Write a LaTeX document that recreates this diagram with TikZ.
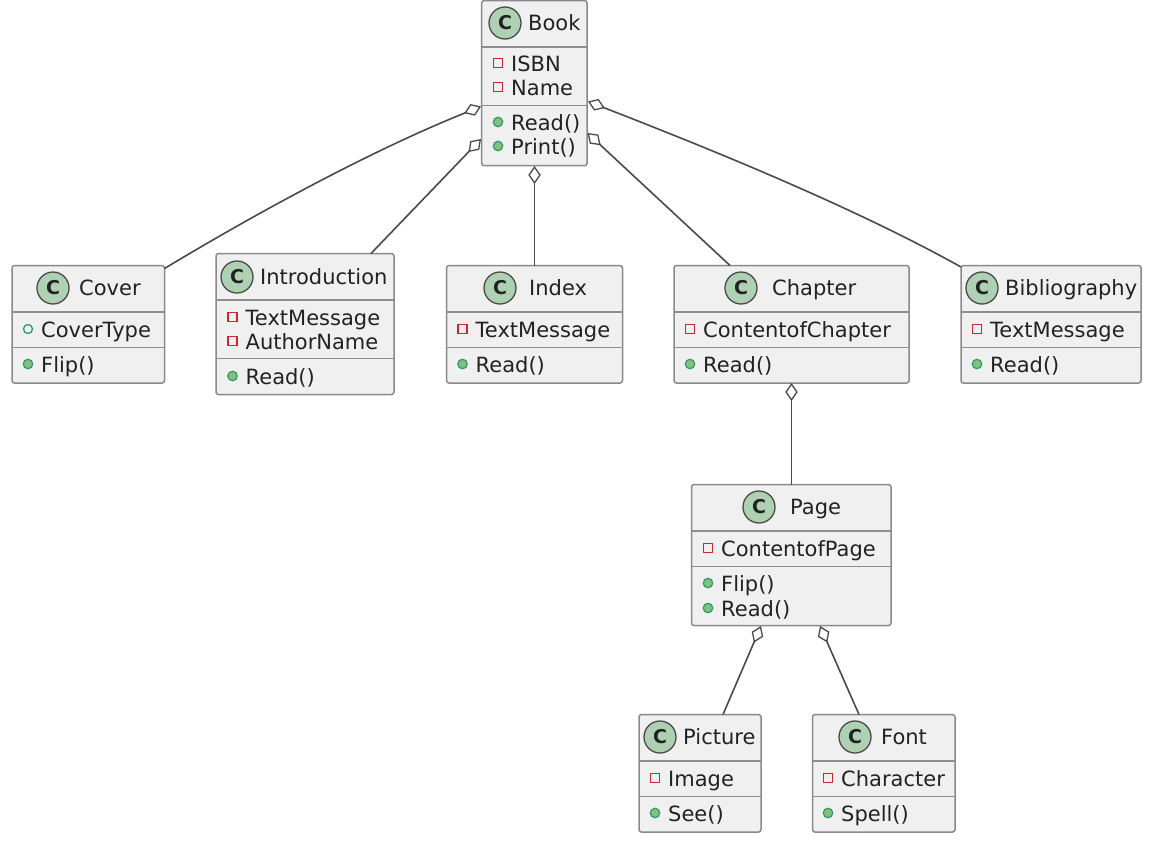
\documentclass[tikz,border=0pt]{standalone}
\usepackage{fontspec}
\setmainfont{DejaVu Sans}
\usetikzlibrary{arrows.meta}
\definecolor{boxfill}{HTML}{F0F0F0}
\definecolor{boxline}{HTML}{8A8A8A}
\definecolor{sepline}{HTML}{8E8E8E}
\definecolor{spot}{HTML}{ADD1B2}
\definecolor{ink}{HTML}{222222}
\definecolor{conn}{HTML}{4A4A4A}
\definecolor{privred}{HTML}{C82930}
\definecolor{pubgreen}{HTML}{2F9E62}
\definecolor{pubfill}{HTML}{84BE84}
\tikzset{
  classbox/.style={draw=boxline,line width=1.5pt,fill=boxfill,rounded corners=2.5pt,inner sep=0pt},
  sep/.style={draw=sepline,line width=1.5pt},
  spotc/.style={circle,draw=conn,line width=1.3pt,fill=spot,minimum size=32pt,inner sep=0pt,font=\fontsize{19}{19}\selectfont\bfseries,text=ink},
  label/.style={anchor=base west,inner sep=0pt,text=ink,font=\fontsize{21}{21}\selectfont},
  priv/.style={rectangle,draw=privred,line width=1.2pt,fill=boxfill,minimum size=9pt,inner sep=0pt},
  pub/.style={circle,draw=pubgreen,line width=1.2pt,fill=pubfill,minimum size=9.5pt,inner sep=0pt},
  pubopen/.style={circle,draw=pubgreen,line width=1.3pt,fill=boxfill,minimum size=9pt,inner sep=0pt},
  agg/.style={draw=conn,line width=1.6pt,{Diamond[open,fill=white,length=18pt,width=12.5pt,line width=1.3pt]}-},
}
% id x1 y1 x2 y2 sep1 sep2 spotx spoty namex name
\newcommand{\umlclass}[9]{%
  \node[classbox,minimum width={(#4-#2)*1pt},minimum height={(#5-#3)*1pt}] (#1) at ({(#2+#4)/2},{-(#3+#5)/2}) {};
  \draw[sep] (#2,-#6) -- (#4,-#6);
  \draw[sep] (#2,-#7) -- (#4,-#7);
  \node[spotc] (#1-spot) at (#8,{-#9}) {C};
  \umlname{#1}{#9}%
}
\newcommand{\umlname}[2]{\def\curid{#1}\def\cury{#2}\umlnameb}
\newcommand{\umlnameb}[2]{\node[label] (\curid-name) at (#1,{-\cury-7}) {#2};}
% id style iconx icony text
\newcommand{\umem}[5]{%
  \node[#2] (#1-icon) at (#3,{-#4}) {};
  \node[label] (#1) at ({#3+13},{-#4-8}) {#5};
}
\begin{document}
\begin{tikzpicture}[x=1pt,y=1pt]
\useasboundingbox (0,0) rectangle (1159,-841);

\umlclass{book}{481.7}{0.5}{587}{165.7}{47}{105.5}{505}{23}{528}{Book}
\umem{isbn}{priv}{498}{63}{ISBN}
\umem{bname}{priv}{498}{87}{Name}
\umem{bread}{pub}{498}{122}{Read()}
\umem{bprint}{pub}{498}{146}{Print()}

\umlclass{cover}{12}{265.5}{164.5}{383}{312}{347.5}{53}{288}{79}{Cover}
\umem{ctype}{pubopen}{28}{329}{CoverType}
\umem{cflip}{pub}{28}{364}{Flip()}

\umlclass{intro}{216}{253.5}{394}{394.5}{300}{358.5}{237}{277}{260}{Introduction}
\umem{itext}{priv}{232.5}{317}{TextMessage}
\umem{iauth}{priv}{232.5}{341}{AuthorName}
\umem{iread}{pub}{232.5}{376}{Read()}

\umlclass{index}{446.5}{265.5}{622.5}{383}{312}{347.5}{500}{288}{529}{Index}
\umem{xtext}{priv}{462.5}{329}{TextMessage}
\umem{xread}{pub}{462.5}{364}{Read()}

\umlclass{chapter}{674}{265.5}{909}{383}{312}{347.5}{741}{288}{772}{Chapter}
\umem{chtext}{priv}{690}{329}{ContentofChapter}
\umem{chread}{pub}{690}{364}{Read()}

\umlclass{biblio}{961}{265.5}{1141}{383}{312}{347.5}{982}{288}{1005}{Bibliography}
\umem{bbtext}{priv}{977}{329}{TextMessage}
\umem{bbread}{pub}{977}{364}{Read()}

\umlclass{page}{691.5}{484.5}{891}{625.5}{531}{566.5}{759}{507}{790}{Page}
\umem{ptext}{priv}{708}{548}{ContentofPage}
\umem{pflip}{pub}{708}{583}{Flip()}
\umem{pread}{pub}{708}{608}{Read()}

\umlclass{picture}{639}{714.5}{761}{832}{761}{796.5}{660}{737}{683}{Picture}
\umem{pimg}{priv}{655}{778}{Image}
\umem{psee}{pub}{655}{813}{See()}

\umlclass{font}{812.5}{714.5}{955}{832}{761}{796.5}{855}{737}{881}{Font}
\umem{fchar}{priv}{828}{778}{Character}
\umem{fspell}{pub}{828}{813}{Spell()}

% connector anchors
\coordinate (bookL1) at (481,-106.5);
\coordinate (bookL2) at (481,-139);
\coordinate (bookB) at (534.5,-166);
\coordinate (bookR2) at (587.5,-133);
\coordinate (bookR1) at (588,-101.5);
\coordinate (coverT) at (164.5,-268.5);
\coordinate (introT) at (371,-253.5);
\coordinate (indexT) at (534.5,-265.5);
\coordinate (chapT) at (730,-265.5);
\coordinate (bibT) at (961,-267);
\coordinate (chapB) at (791.5,-383);
\coordinate (pageT) at (791.5,-484.5);
\coordinate (pageBL) at (761,-626);
\coordinate (pageBR) at (820,-626);
\coordinate (picT) at (723,-714.5);
\coordinate (fontT) at (859,-714.5);

\draw[agg] (bookL1) .. controls (380,-147) and (270,-205) .. (coverT);
\draw[agg] (bookL2) -- (introT);
\draw[agg] (bookB) -- (indexT);
\draw[agg] (bookR2) -- (chapT);
\draw[agg] (bookR1) .. controls (700,-145) and (850,-205) .. (bibT);
\draw[agg] (chapB) -- (pageT);
\draw[agg] (pageBL) -- (picT);
\draw[agg] (pageBR) -- (fontT);
\end{tikzpicture}
\end{document}
